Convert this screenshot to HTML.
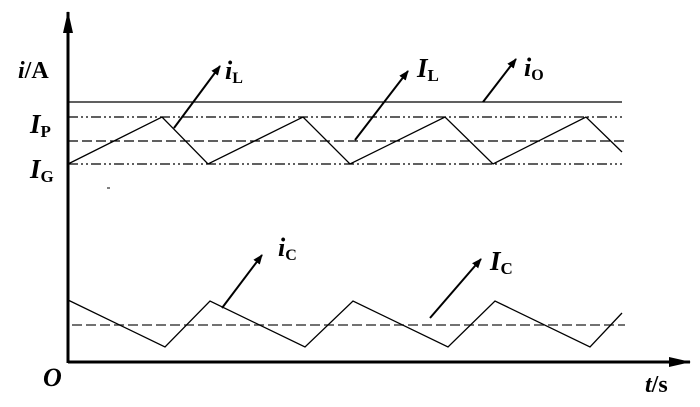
<!DOCTYPE html>
<html><head><meta charset="utf-8"><style>
html,body{margin:0;padding:0;background:#fff;width:700px;height:407px;overflow:hidden}
text{font-family:"Liberation Serif",serif;font-weight:bold;fill:#000}
</style></head><body>
<svg width="700" height="407" viewBox="0 0 700 407" xmlns="http://www.w3.org/2000/svg">
<defs>
<marker id="a" markerWidth="10" markerHeight="8" refX="9" refY="4" orient="auto" markerUnits="userSpaceOnUse"><path d="M0,0 L10,4 L0,8 Z" fill="#000"/></marker>
<marker id="b" markerWidth="22" markerHeight="10" refX="21" refY="5" orient="auto" markerUnits="userSpaceOnUse"><path d="M0,0 L22,5 L0,10 Z" fill="#000"/></marker>
</defs>
<g stroke="#000" fill="none">
<line x1="68" y1="363" x2="68" y2="12" stroke-width="3" marker-end="url(#b)"/>
<line x1="68" y1="362" x2="690" y2="362" stroke-width="3" marker-end="url(#b)"/>
<line x1="68" y1="102" x2="622" y2="102" stroke-width="1.3"/>
<line x1="68" y1="117" x2="622" y2="117" stroke-width="1.2" stroke-dasharray="10,3,2,3,2,3"/>
<line x1="68" y1="141" x2="625" y2="141" stroke-width="1.2" stroke-dasharray="10,4"/>
<line x1="68" y1="164" x2="622" y2="164" stroke-width="1.2" stroke-dasharray="10,3,2,3,2,3"/>
<polyline points="68,164 162,117 208,164 303,117 350,164 445,117 493,164 586,117 622,152" stroke-width="1.3"/>
<line x1="174" y1="128" x2="220" y2="66" stroke-width="2" marker-end="url(#a)"/>
<line x1="355" y1="140" x2="408" y2="71" stroke-width="2" marker-end="url(#a)"/>
<line x1="483" y1="102" x2="516" y2="59" stroke-width="2" marker-end="url(#a)"/>
<line x1="72" y1="325" x2="625" y2="325" stroke="#444" stroke-width="1.5" stroke-dasharray="10,4"/>
<polyline points="68,300 165,347 210,301 305,347 353,301 448,347 495,301 590,347 622,313" stroke-width="1.3"/>
<line x1="222" y1="308" x2="262" y2="255" stroke-width="2" marker-end="url(#a)"/>
<line x1="430" y1="318" x2="481" y2="259" stroke-width="2" marker-end="url(#a)"/>
</g>
<text x="18" y="78" font-size="24"><tspan font-style="italic">i</tspan>/A</text>
<text x="30" y="133" font-size="27" font-style="italic">I<tspan font-size="17" font-style="normal" dy="4">P</tspan></text>
<text x="30" y="178" font-size="27" font-style="italic">I<tspan font-size="17" font-style="normal" dy="4">G</tspan></text>
<text x="225" y="79" font-size="26" font-style="italic">i<tspan font-size="16" font-style="normal" dy="4">L</tspan></text>
<text x="417" y="77" font-size="27" font-style="italic">I<tspan font-size="17" font-style="normal" dy="4">L</tspan></text>
<text x="524" y="76" font-size="26" font-style="italic">i<tspan font-size="16" font-style="normal" dy="4">O</tspan></text>
<text x="278" y="256" font-size="26" font-style="italic">i<tspan font-size="16" font-style="normal" dy="4">C</tspan></text>
<text x="490" y="270" font-size="27" font-style="italic">I<tspan font-size="17" font-style="normal" dy="4">C</tspan></text>
<text x="43" y="386" font-size="26" font-style="italic">O</text>
<text x="645" y="392" font-size="24"><tspan font-style="italic">t</tspan>/s</text>
<line x1="107" y1="188" x2="110" y2="188" stroke="#000" stroke-width="1"/>
</svg>
</body></html>
